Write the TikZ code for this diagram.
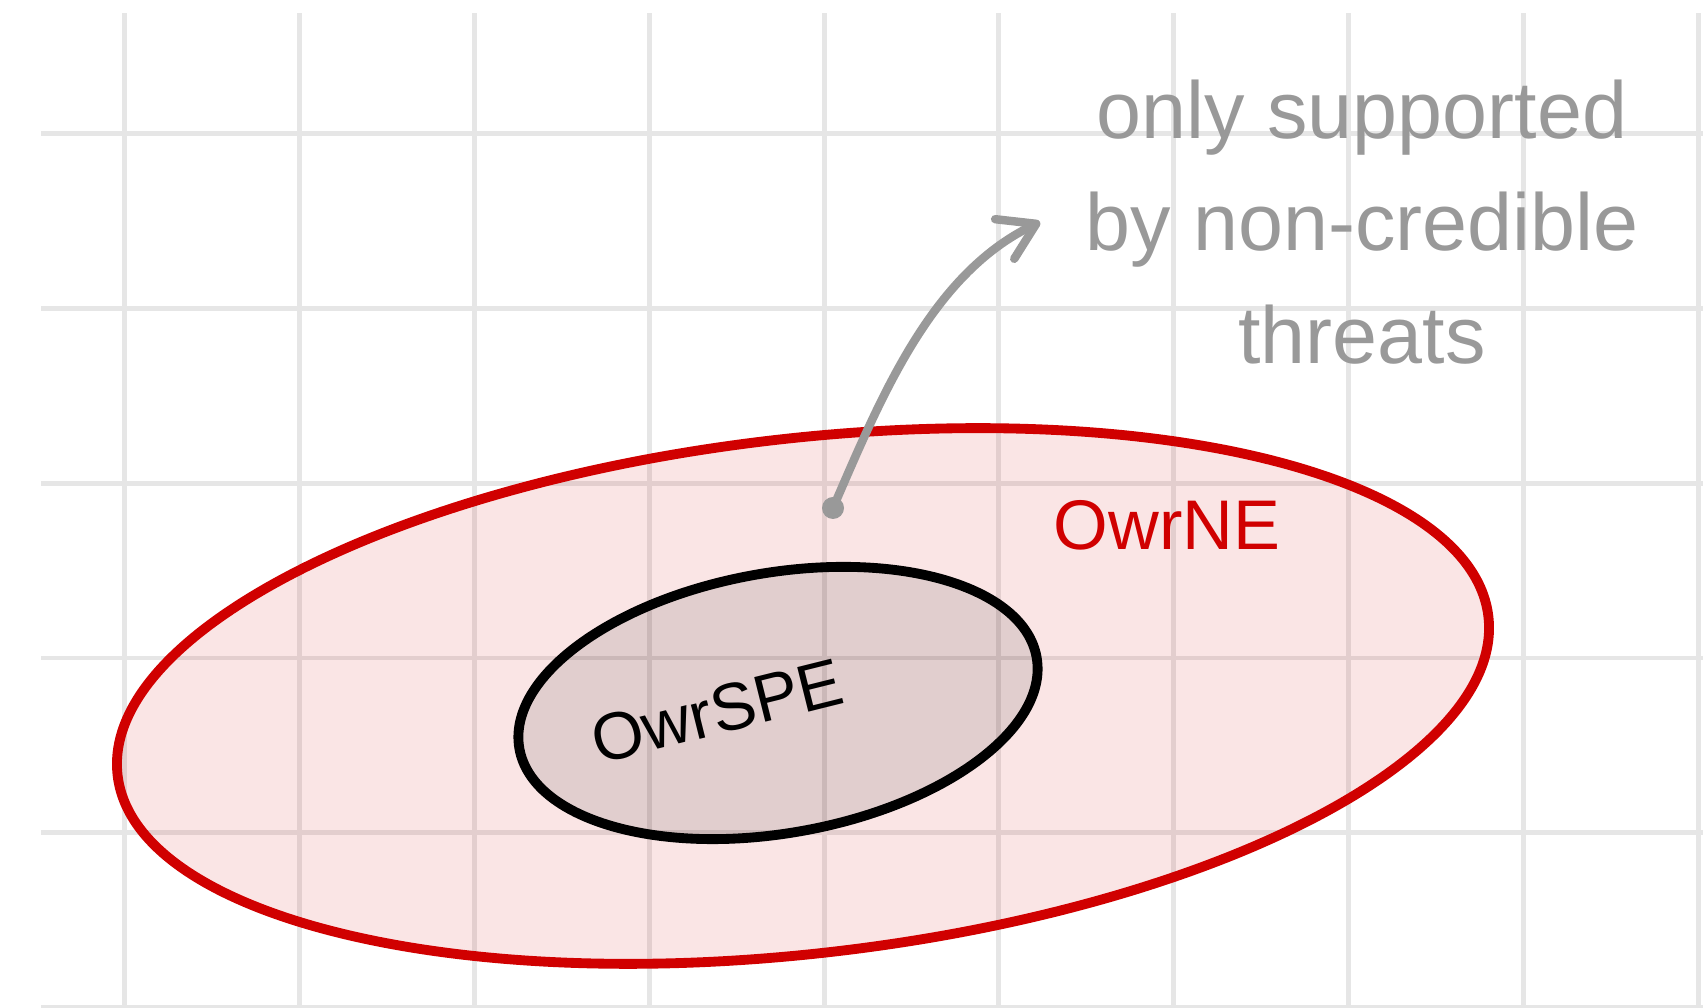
\documentclass[tikz,border=0pt]{standalone}
\usepackage{fontspec}
\setmainfont{Liberation Sans}
\usetikzlibrary{arrows.meta}

\definecolor{nered}{RGB}{208,0,0}
\definecolor{notegray}{RGB}{153,153,153}
\definecolor{gridgray}{RGB}{230,230,230}

\begin{document}
\begin{tikzpicture}[x=1cm, y=1cm,
  gridline/.style={gridgray, line width=1.4pt},
  setline/.style={line width=2.8pt, fill opacity=0.1},
  ]

\useasboundingbox (0,0) rectangle (17.03,10.08);

% Grid size
\def\cell{1.748}
\def\gridleft{0.41}
\def\gridtop{9.95}

% Draw grid
\foreach \i in {0,...,9} {
    \draw[gridline] (1.249+\i*\cell,0) -- (1.249+\i*\cell,\gridtop);
}
\foreach \j in {0,...,5} {
    \draw[gridline] (\gridleft,8.744-\j*\cell) -- (17.03,8.744-\j*\cell);
}

% NE set
\draw[setline, nered, fill=nered, rotate around={6.6:(8.03,3.12)}] (8.03,3.12) ellipse (6.90 and 2.575);

% SPE set
\draw[setline, black, fill=black, rotate around={10:(7.78,3.05)}] (7.78,3.05) ellipse (2.626 and 1.302);

% Labels
\node[text=nered, font=\fontsize{20}{24}\selectfont] (ne) at (11.67,4.83) {OwrNE};
\node[rotate=14, font=\fontsize{19}{23}\selectfont] (spe) at (7.17,2.97) {OwrSPE};

\node[text=notegray, align=center, font=\fontsize{23}{32}\selectfont] (note) at (13.62,7.86) {only supported\\by non-credible\\threats};

% Arrow to the note
\node[circle, fill=notegray, inner sep=0pt, minimum size=0.22cm] (dot) at (8.33,5.00) {};
\coordinate (tip) at (10.40,7.86);
\draw[notegray, line width=2.4pt, line cap=round, -{Straight Barb[length=3.5mm,width=4.4mm,round]}] (dot.center) .. controls (8.80,6.08) and (9.30,7.33) .. (tip);

\end{tikzpicture}
\end{document}
